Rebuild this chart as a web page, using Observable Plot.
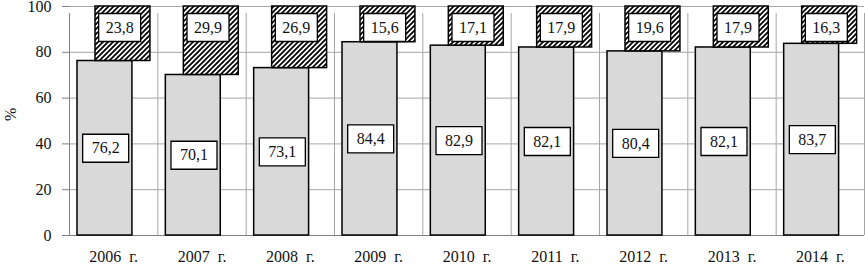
<!DOCTYPE html>
<html><head><meta charset="utf-8">
<script src="https://cdn.jsdelivr.net/npm/d3@7"></script>
<script src="https://cdn.jsdelivr.net/npm/@observablehq/plot@0.6"></script>
<style>body{margin:0;background:#fff}</style>
</head><body><div id="chart"></div>
<script>
const years = ["2006 г.","2007 г.","2008 г.","2009 г.","2010 г.","2011 г.","2012 г.","2013 г.","2014 г."];
const shareA = [76.2,70.1,73.1,84.4,82.9,82.1,80.4,82.1,83.7];
const shareB = [23.8,29.9,26.9,15.6,17.1,17.9,19.6,17.9,16.3];
const yTicks = [0,20,40,60,80,100];

const fmt = v => v.toFixed(1).replace(".", ",");
const dataA = years.map((y,i)=>({i, year:y, value:shareA[i]}));
const dataB = years.map((y,i)=>({i, year:y, base:shareA[i], value:shareB[i]}));
const bounds = d3.range(years.length + 1);
const centers = d3.range(years.length).map(i => i + 0.5);

const boxA = {draw(ctx){ctx.rect(-23,-14,46,28);}};
const boxB = {draw(ctx){ctx.rect(-21,-14,42,28);}};
const HATCH = "#123456";
const serifFace = "Liberation Serif";

const chart = Plot.plot({
  width: 865, height: 264,
  marginLeft: 69, marginRight: 1, marginTop: 6, marginBottom: 29,
  x: {domain: [0, years.length], axis: null},
  y: {domain: [0, 100], axis: null},
  marks: [
    Plot.ruleY(yTicks.slice(1), {y: d => d, stroke: "#a6a6a6", strokeWidth: 1}),
    Plot.ruleX(bounds, {x: d => d, y1: 0, y2: 100, stroke: d => d === 0 ? "#808080" : "#a6a6a6", insetBottom: -7}),
    Plot.ruleY([0], {stroke: "#808080", strokeWidth: 1}),
    Plot.axisY({ticks: yTicks, tickSize: 7, tickPadding: 11, stroke: "#808080", fill: "#111", fontSize: 16, fontFamily: serifFace, label: null}),
    Plot.axisX({ticks: centers, tickFormat: t => years[Math.floor(t)].replace(" ", "\u2002"), tickSize: 0, tickPadding: 15, fill: "#111", fontSize: 16, fontFamily: serifFace, label: null}),
    Plot.rectY(dataA, {x1: "i", x2: d => d.i + 1, y1: 0, y2: "value", fill: "#d9d9d9", stroke: "black", strokeWidth: 1.5, insetLeft: 8, insetRight: 25.4}),
    Plot.rectY(dataB, {x1: "i", x2: d => d.i + 1, y1: "base", y2: d => d.base + d.value, fill: HATCH, stroke: "black", strokeWidth: 1.5, insetLeft: 26, insetRight: 7.4}),
    Plot.dot(dataA, {x: d => d.i + 0.5, y: d => d.value / 2, dx: -8, symbol: boxA, r: 5, fill: "white", stroke: "black", strokeWidth: 1.3}),
    Plot.text(dataA, {x: d => d.i + 0.5, y: d => d.value / 2, dx: -8, text: d => fmt(d.value), fontSize: 16, fontFamily: serifFace, fill: "#111"}),
    Plot.dot(dataB, {x: d => d.i + 0.5, y: d => d.base + d.value, dx: 6, dy: 21, symbol: boxB, r: 5, fill: "white", stroke: "black", strokeWidth: 1.3}),
    Plot.text(dataB, {x: d => d.i + 0.5, y: d => d.base + d.value, dx: 6, dy: 21, text: d => fmt(d.value), fontSize: 16, fontFamily: serifFace, fill: "#111"}),
    Plot.text(["%"], {frameAnchor: "left", dx: -59, rotate: -90, text: d => d, fontSize: 16, fontFamily: serifFace, fill: "#111"})
  ]
});

const ns = "http://www.w3.org/2000/svg";
const defs = document.createElementNS(ns, "defs");
const pat = document.createElementNS(ns, "pattern");
pat.setAttribute("id", "hatch");
pat.setAttribute("patternUnits", "userSpaceOnUse");
pat.setAttribute("width", "5");
pat.setAttribute("height", "5");
const bg = document.createElementNS(ns, "rect");
bg.setAttribute("width", "5"); bg.setAttribute("height", "5"); bg.setAttribute("fill", "white");
const ln = document.createElementNS(ns, "path");
ln.setAttribute("d", "M-1,1 l2,-2 M0,5 l5,-5 M4,6 l2,-2");
ln.setAttribute("stroke", "black"); ln.setAttribute("stroke-width", "1.8");
pat.appendChild(bg); pat.appendChild(ln); defs.appendChild(pat);
chart.insertBefore(defs, chart.firstChild);
chart.querySelectorAll(`[fill="${HATCH}"]`).forEach(el => el.setAttribute("fill", "url(#hatch)"));
chart.setAttribute("font-family", serifFace);
chart.querySelectorAll("g, text").forEach(el => { if (el.hasAttribute("font-family") || el.tagName === "text") { el.setAttribute("font-family", serifFace); el.style.fontFamily = serifFace; } });
document.getElementById("chart").appendChild(chart);
</script>
</body></html>
